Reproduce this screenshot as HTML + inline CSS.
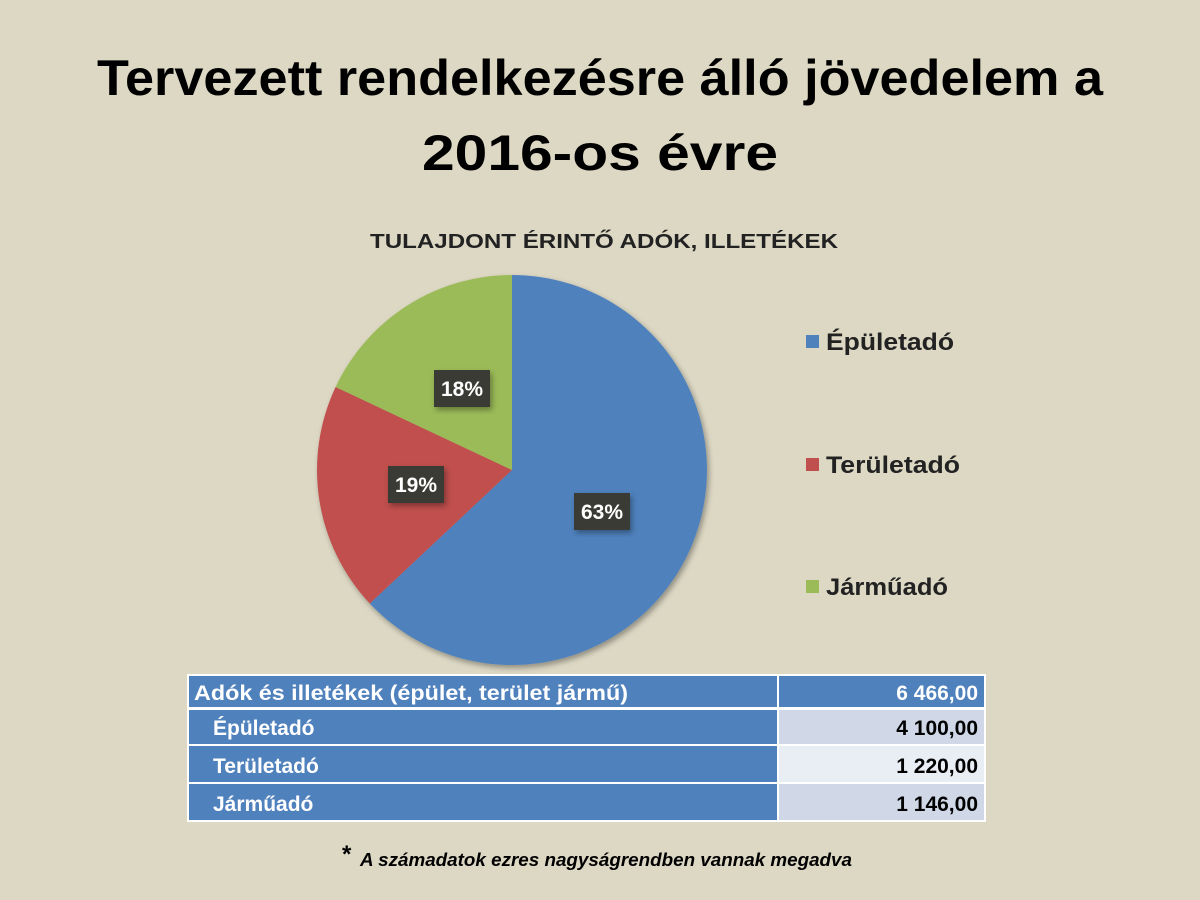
<!DOCTYPE html>
<html><head><meta charset="utf-8"><style>
html,body{margin:0;padding:0;background:#ddd8c4;}
svg{display:block;}
text{font-family:"Liberation Sans",sans-serif;}
</style></head><body>
<svg width="1200" height="900" viewBox="0 0 1200 900" xmlns="http://www.w3.org/2000/svg">
<rect width="1200" height="900" fill="#ddd8c4"/>
<defs>
<filter id="sh" x="-20%" y="-20%" width="140%" height="140%"><feDropShadow dx="2" dy="3" stdDeviation="3" flood-color="#000" flood-opacity="0.35"/></filter>
</defs>
<text x="600" y="95" text-anchor="middle" font-size="50" font-weight="bold" fill="#000" textLength="1006" lengthAdjust="spacingAndGlyphs">Tervezett rendelkezésre álló jövedelem a</text>
<text x="600" y="170" text-anchor="middle" font-size="50" font-weight="bold" fill="#000" textLength="356" lengthAdjust="spacingAndGlyphs">2016-os évre</text>
<text x="604" y="248" text-anchor="middle" font-size="20" font-weight="bold" fill="#222" textLength="468" lengthAdjust="spacingAndGlyphs">TULAJDONT ÉRINTŐ ADÓK, ILLETÉKEK</text>
<g filter="url(#sh)">
<path d="M512,470 L512,275 A195,195 0 1 1 369.8,603.5 Z" fill="#4f81bd"/>
<path d="M512,470 L369.8,603.5 A195,195 0 0 1 335.6,387 Z" fill="#c0504d"/>
<path d="M512,470 L335.6,387 A195,195 0 0 1 512,275 Z" fill="#9bbb59"/>
</g>
<g font-size="21" font-weight="bold" fill="#fff" text-anchor="middle">
<rect x="434" y="370" width="56" height="37" fill="#3b3a36" filter="url(#sh)"/><text x="462" y="396">18%</text>
<rect x="388" y="466" width="56" height="37" fill="#3b3a36" filter="url(#sh)"/><text x="416" y="492">19%</text>
<rect x="574" y="493" width="56" height="37" fill="#3b3a36" filter="url(#sh)"/><text x="602" y="519">63%</text>
</g>
<g font-size="24" font-weight="bold" fill="#222">
<rect x="806" y="335" width="13" height="13" fill="#4f81bd"/><text x="826" y="350" textLength="128" lengthAdjust="spacingAndGlyphs">Épületadó</text>
<rect x="806" y="458" width="13" height="13" fill="#c0504d"/><text x="826" y="473" textLength="134" lengthAdjust="spacingAndGlyphs">Területadó</text>
<rect x="806" y="580" width="13" height="13" fill="#9bbb59"/><text x="826" y="595" textLength="122" lengthAdjust="spacingAndGlyphs">Járműadó</text>
</g>
<rect x="187" y="674" width="799" height="148" fill="#fff"/>
<rect x="189" y="676" width="588" height="31" fill="#4f81bd"/>
<rect x="779" y="676" width="205" height="31" fill="#4f81bd"/>
<rect x="189" y="710" width="588" height="34" fill="#4f81bd"/>
<rect x="779" y="710" width="205" height="34" fill="#d0d8e8"/>
<rect x="189" y="746" width="588" height="36" fill="#4f81bd"/>
<rect x="779" y="746" width="205" height="36" fill="#e9edf4"/>
<rect x="189" y="784" width="588" height="36" fill="#4f81bd"/>
<rect x="779" y="784" width="205" height="36" fill="#d0d8e8"/>
<g font-size="21" font-weight="bold">
<text x="194" y="700" fill="#fff" textLength="434" lengthAdjust="spacingAndGlyphs">Adók és illetékek (épület, terület jármű)</text>
<text x="978" y="700" fill="#fff" text-anchor="end">6 466,00</text>
<text x="213" y="735" fill="#fff">Épületadó</text>
<text x="978" y="735" fill="#000" text-anchor="end">4 100,00</text>
<text x="213" y="773" fill="#fff">Területadó</text>
<text x="978" y="773" fill="#000" text-anchor="end">1 220,00</text>
<text x="213" y="811" fill="#fff">Járműadó</text>
<text x="978" y="811" fill="#000" text-anchor="end">1 146,00</text>
</g>
<text x="342" y="862" font-size="24" font-weight="bold" fill="#000">*</text>
<text x="360" y="866" font-size="18" font-weight="bold" font-style="italic" fill="#000" textLength="492" lengthAdjust="spacingAndGlyphs">A számadatok ezres nagyságrendben vannak megadva</text>
</svg>
</body></html>
